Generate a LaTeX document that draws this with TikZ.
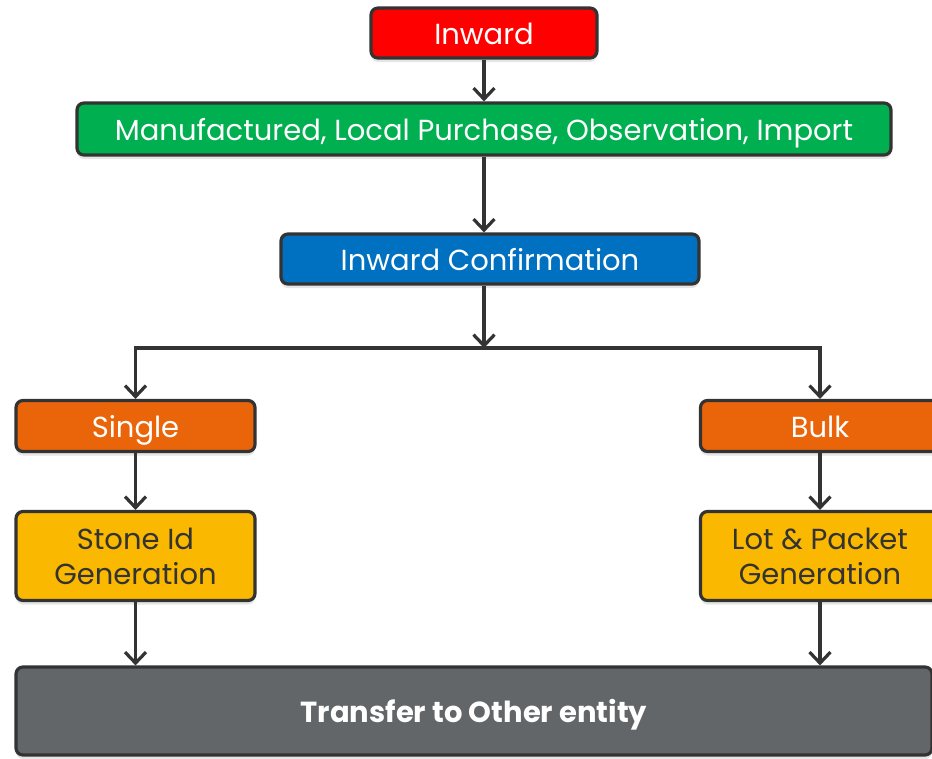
\documentclass[tikz,border=0pt]{standalone}
\usepackage{fontspec}
\setmainfont{Poppins}
\usepackage{tikz}
\usetikzlibrary{arrows.meta,shadows}

\definecolor{edge}{HTML}{333333}
\definecolor{inred}{HTML}{FF0000}
\definecolor{ingreen}{HTML}{00B050}
\definecolor{inblue}{HTML}{0070C0}
\definecolor{inorange}{HTML}{EA650A}
\definecolor{inyellow}{HTML}{FAB800}
\definecolor{ingray}{HTML}{636669}

\tikzset{
  box/.style={draw=edge,line width=3.2pt,rounded corners=7pt,align=center,
    text=white,font=\fontsize{29}{35}\selectfont,
    drop shadow={opacity=0.2,shadow xshift=0pt,shadow yshift=-4pt}},
  oneline/.style={text height=28pt,text depth=6pt},
  flow/.style={draw=edge,line width=3.2pt,
    -{Straight Barb[length=11pt,width=21pt,line width=3.2pt]}}
}

\begin{document}
\begin{tikzpicture}[x=1pt,y=-1pt]
\useasboundingbox[fill=white] (0,0) rectangle (932,758);
\node[box,oneline,fill=inred,minimum width=226pt,minimum height=50pt] (inward) at (484,33) {Inward};
\node[box,oneline,fill=ingreen,minimum width=814pt,minimum height=52pt] (sources) at (484,129) {Manufactured, Local Purchase, Observation, Import};
\node[box,oneline,fill=inblue,minimum width=418pt,minimum height=50pt] (confirm) at (490,259) {Inward Confirmation};
\coordinate (split) at (484,348);
\node[box,oneline,fill=inorange,minimum width=239pt,minimum height=51pt] (single) at (135.5,426) {Single};
\node[box,oneline,fill=inorange,minimum width=239pt,minimum height=51pt] (bulk) at (820,426) {Bulk};
\node[box,fill=inyellow,text=edge,minimum width=239pt,minimum height=89pt] (stoneid) at (135.5,556) {Stone Id\\Generation};
\node[box,fill=inyellow,text=edge,minimum width=239pt,minimum height=89pt] (lotpacket) at (820,556) {Lot \& Packet\\Generation};
\node[box,oneline,fill=ingray,font=\fontsize{29}{35}\selectfont\bfseries,minimum width=916pt,minimum height=88pt] (transfer) at (474,711) {Transfer to Other entity};

\draw[flow] (inward) -- (sources);
\draw[flow] (sources.south) -- (sources.south |- confirm.north);
\draw[flow] (split |- confirm.south) -- (split);
\draw[flow] (split) -| (single.north);
\draw[flow] (split) -| (bulk.north);
\draw[flow] (single) -- (stoneid);
\draw[flow] (bulk) -- (lotpacket);
\draw[flow] (stoneid.south) -- (stoneid.south |- transfer.north);
\draw[flow] (lotpacket.south) -- (lotpacket.south |- transfer.north);
\end{tikzpicture}
\end{document}
